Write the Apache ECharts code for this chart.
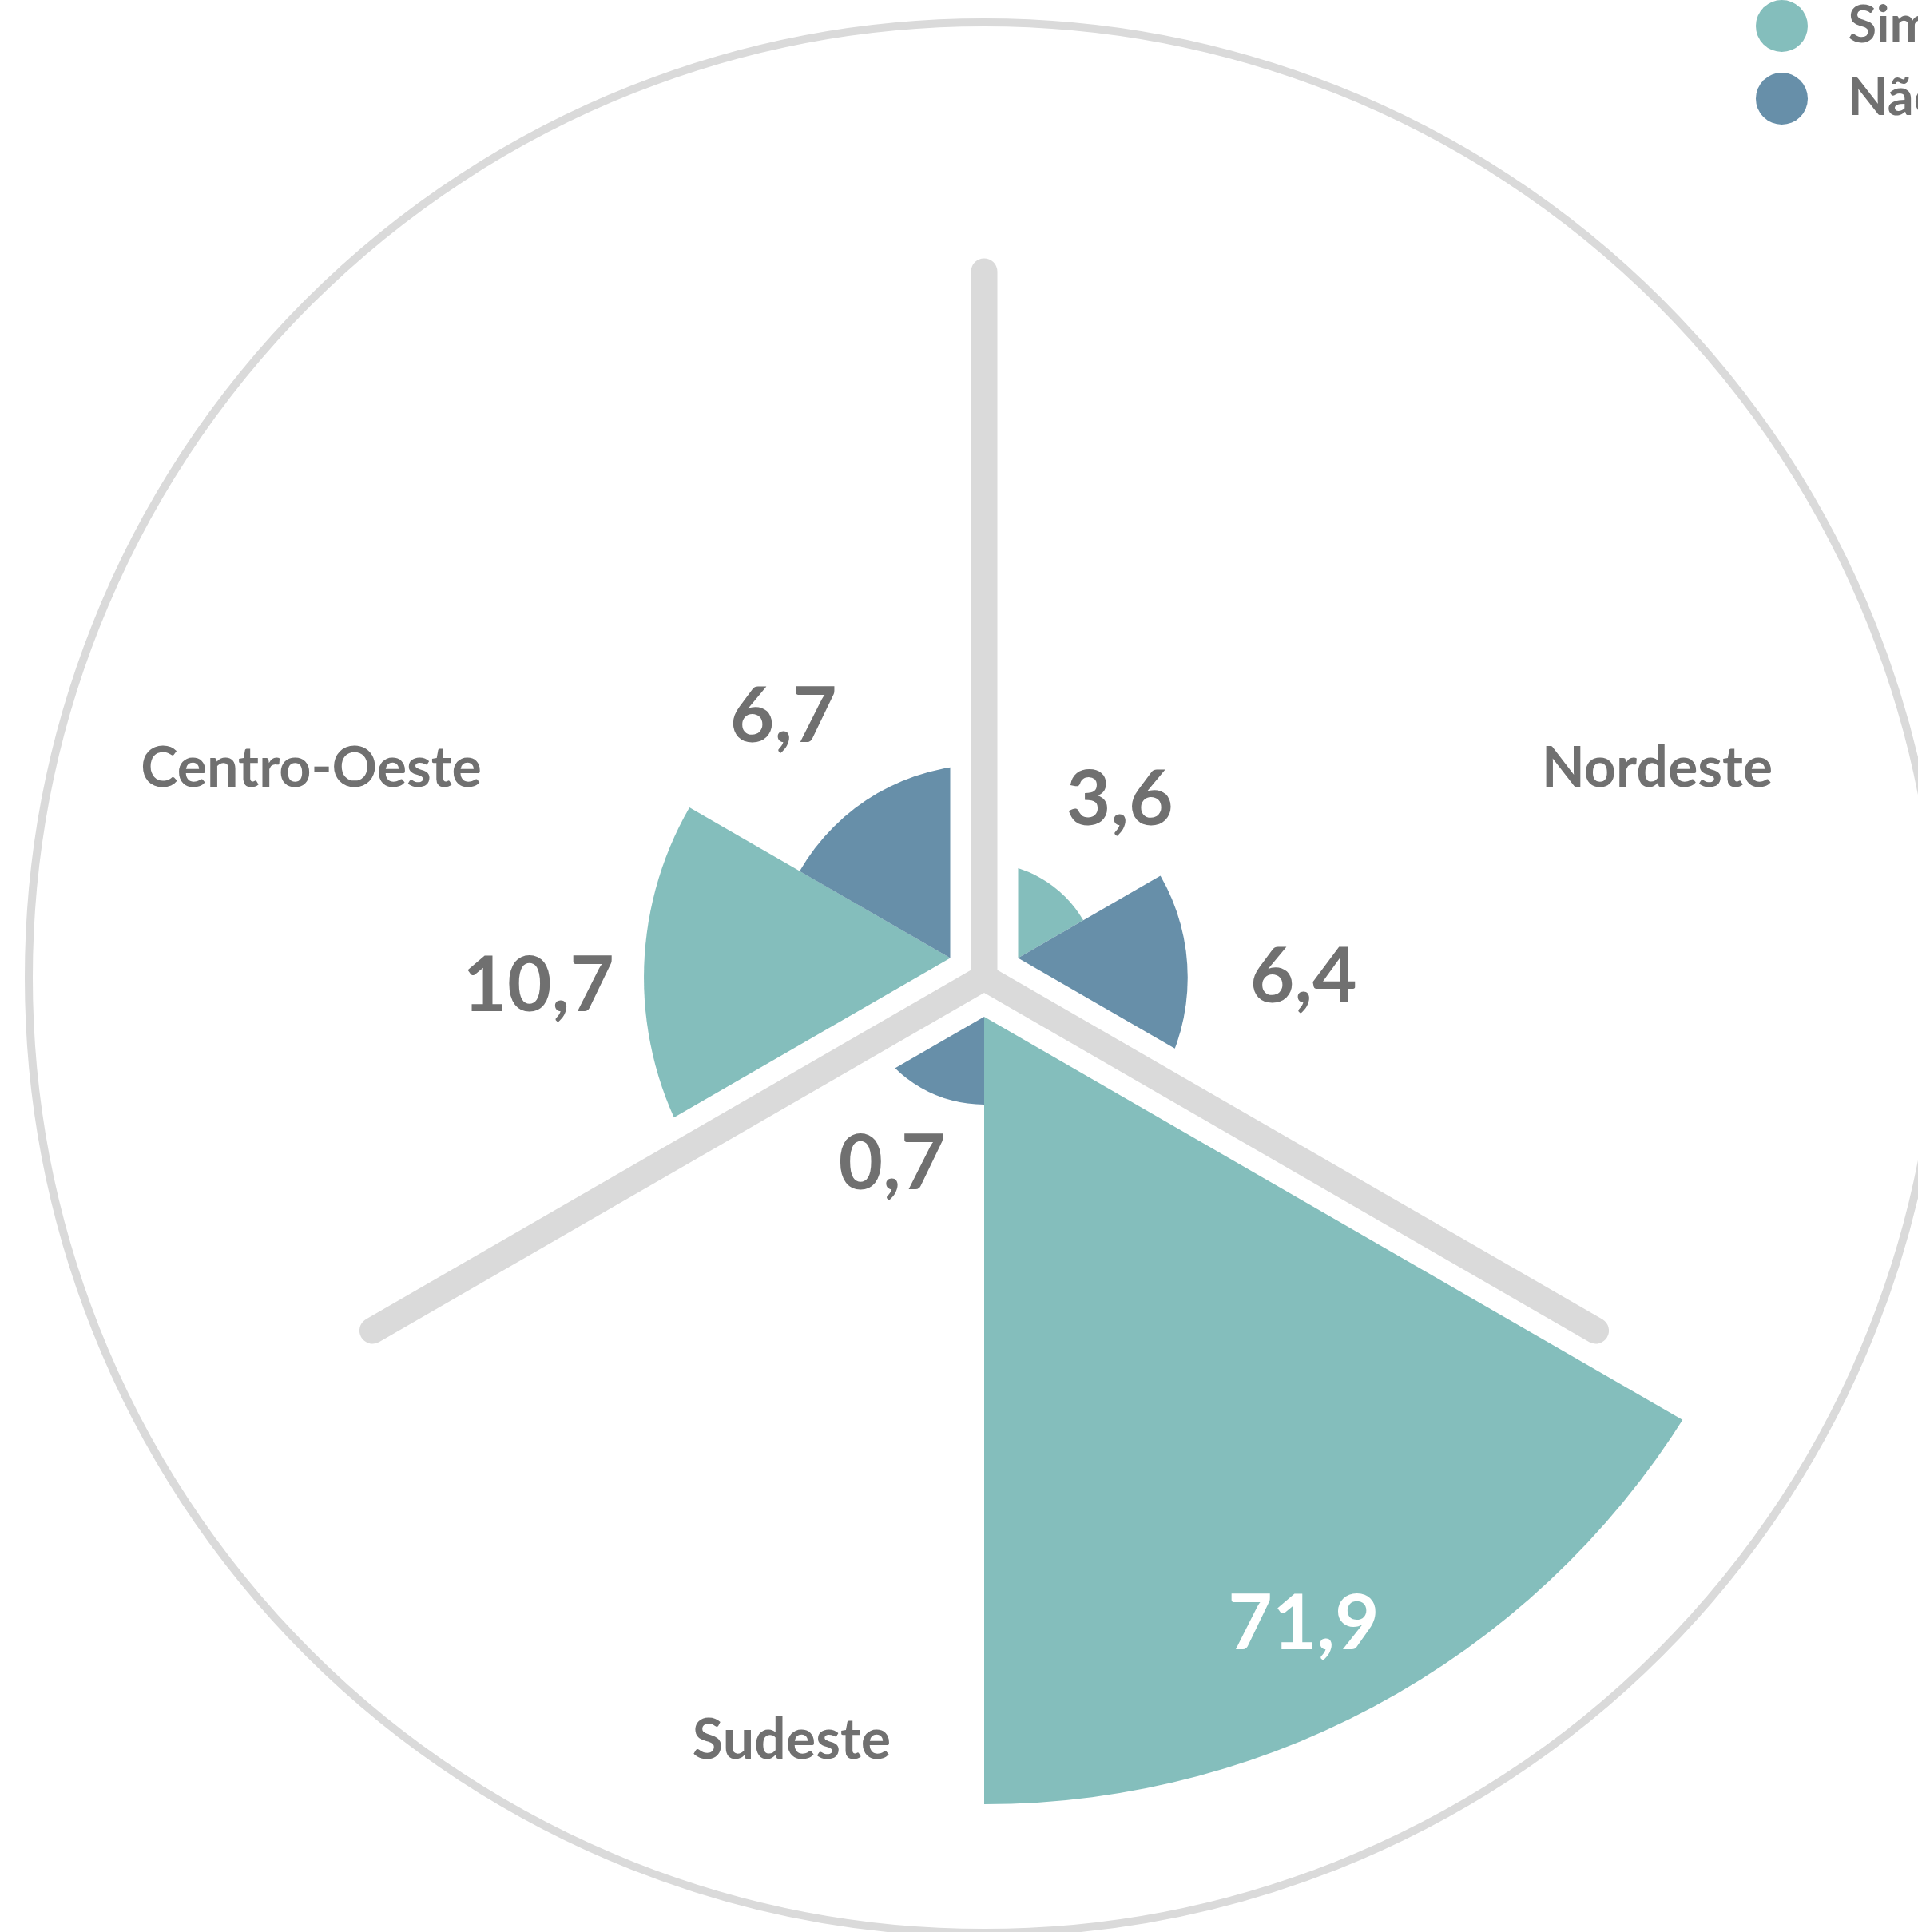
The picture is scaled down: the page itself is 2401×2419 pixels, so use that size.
<!DOCTYPE html>
<html><head><meta charset="utf-8">
<script src="https://cdn.jsdelivr.net/npm/echarts@6/dist/echarts.min.js"></script>
<style>html,body{margin:0;padding:0;background:#fff;} #c{width:2401px;height:2419px;}</style>
</head><body><div id="c"></div>
<script>
// ---- data ----
const categories = ['Nordeste', 'Sudeste', 'Centro-Oeste'];
const seriesNames = ['Sim', 'Não'];
const simValues = [3.6, 71.9, 10.7];
const naoValues = [6.4, 0.7, 6.7];
const radiusMax = 26;

// ---- styles ----
const CX = 1232, CY = 1224;
const colors = { sim: '#84bebc', nao: '#678fa9', grid: '#dadada', text: '#707070' };
const FONT = 'Lato';
const catLabelPos = [
  { x: 1930, y: 962, align: 'left' },
  { x: 991, y: 2179, align: 'center' },
  { x: 603, y: 962, align: 'right' }
];
// fine label nudges (px) per category, per series
const simLabelOffset = [[28, 23], [-49, 32], [8, 11]];
const naoLabelOffset = [[5, 0], [34, -25], [-48, 26]];

const fmt = v => String(v).replace('.', ',');
function buildData(values, offsets) {
  return values.map((v, i) => {
    if (v > radiusMax) {
      return { value: radiusMax, realValue: v,
        label: { position: 'insideEnd', color: '#ffffff', distance: 137, offset: offsets[i] } };
    }
    return { value: v, realValue: v, label: { offset: offsets[i] } };
  });
}
const labelBase = {
  show: true, position: 'end', distance: 140, rotate: 0,
  align: 'center', verticalAlign: 'middle',
  fontSize: 96, fontWeight: 'bold', fontFamily: FONT, color: colors.text,
  formatter: p => fmt(p.data.realValue)
};

const chart = echarts.init(document.getElementById('c'), null, { renderer: 'canvas', width: 2401, height: 2419 });
const hiddenRadius = { show: false, min: 0, max: 1 };
const option = {
  animation: false,
  backgroundColor: '#ffffff',
  legend: {
    data: seriesNames, orient: 'vertical', left: 2198, top: 0, padding: 0,
    icon: 'circle', itemWidth: 156, itemHeight: 65, itemGap: 26,
    textStyle: { fontSize: 65, fontWeight: 'bold', fontFamily: FONT, color: colors.text }
  },
  polar: [
    { center: [CX, CY], radius: 1035 },
    { center: [CX, CY], radius: 1120 },
    { center: [CX, CY], radius: 884 },
    { center: [CX, CY], radius: 1196 }
  ],
  angleAxis: [
    { polarIndex: 0, type: 'category', data: categories, startAngle: 90, show: false },
    { polarIndex: 1, type: 'category', data: categories, startAngle: 90, z: 3,
      axisLine: { show: false }, axisTick: { show: false }, axisLabel: { show: false },
      splitLine: { show: true, lineStyle: { color: '#ffffff', width: 85 } } },
    { polarIndex: 2, type: 'category', data: categories, startAngle: 90, z: 4,
      axisLine: { show: false }, axisTick: { show: false }, axisLabel: { show: false },
      splitLine: { show: true, lineStyle: { color: colors.grid, width: 33, cap: 'round' } } },
    { polarIndex: 3, type: 'category', data: categories, startAngle: 90, z: 1,
      axisLine: { show: true, lineStyle: { color: colors.grid, width: 10 } },
      axisTick: { show: false }, axisLabel: { show: false }, splitLine: { show: false } }
  ],
  radiusAxis: [
    { polarIndex: 0, show: false, min: 0, max: radiusMax },
    Object.assign({ polarIndex: 1 }, hiddenRadius),
    Object.assign({ polarIndex: 2 }, hiddenRadius),
    Object.assign({ polarIndex: 3 }, hiddenRadius)
  ],
  graphic: categories.map((c, i) => ({
    type: 'text', z: 10,
    style: {
      text: c, x: catLabelPos[i].x, y: catLabelPos[i].y,
      align: catLabelPos[i].align, verticalAlign: 'middle',
      fontSize: 70, fontWeight: 'bold', fontFamily: FONT, fill: colors.text
    }
  })),
  series: [
    { type: 'bar', name: seriesNames[0], coordinateSystem: 'polar', polarIndex: 0,
      data: buildData(simValues, simLabelOffset), barGap: '0%', barCategoryGap: '0%',
      itemStyle: { color: colors.sim }, label: labelBase, z: 2 },
    { type: 'bar', name: seriesNames[1], coordinateSystem: 'polar', polarIndex: 0,
      data: buildData(naoValues, naoLabelOffset), barGap: '0%', barCategoryGap: '0%', barMinHeight: 159,
      itemStyle: { color: colors.nao }, label: labelBase, z: 2 }
  ]
};
chart.setOption(option);
</script>
</body></html>
